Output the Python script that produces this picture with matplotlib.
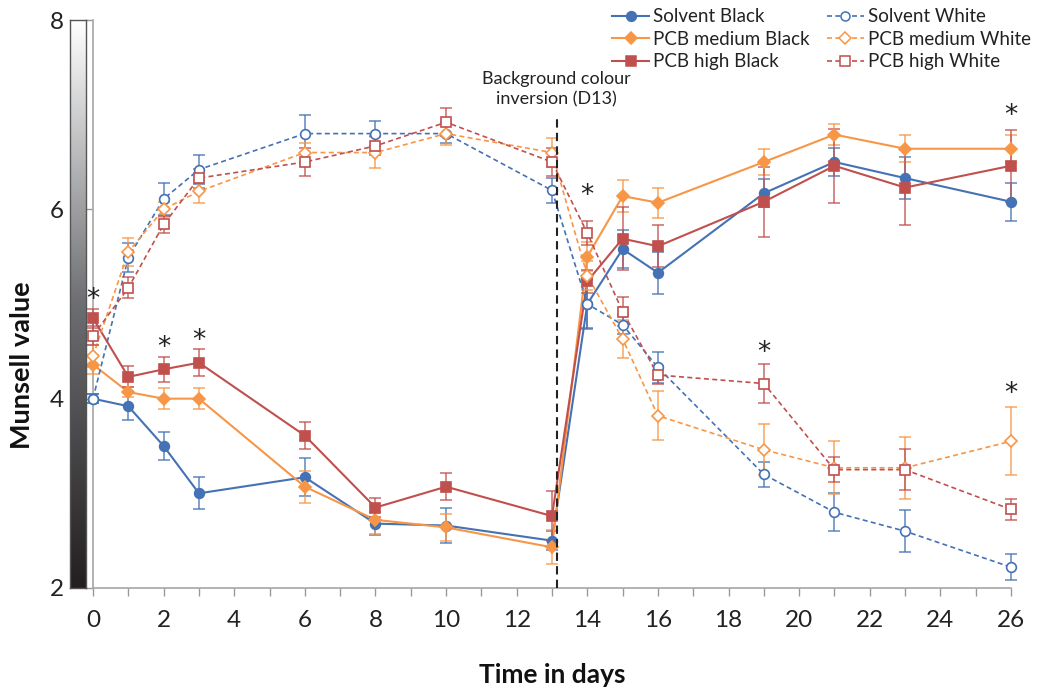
import numpy as np
import matplotlib
matplotlib.use("Agg")
import matplotlib.pyplot as plt
from matplotlib.ticker import MultipleLocator
from matplotlib.lines import Line2D
from matplotlib.colors import LinearSegmentedColormap

plt.rcParams['font.family'] = ['Lato', 'DejaVu Sans']

days = [0, 1, 2, 3, 6, 8, 10, 13, 14, 15, 16, 19, 21, 23, 26]

solvent_black = [4.00, 3.92, 3.50, 3.00, 3.17, 2.68, 2.66, 2.50, 5.00, 5.58, 5.33, 6.17, 6.50, 6.33, 6.08]
solvent_black_err = [0.05, 0.15, 0.15, 0.17, 0.20, 0.12, 0.18, 0.10, 0.25, 0.20, 0.22, 0.15, 0.15, 0.22, 0.20]

medium_black = [4.36, 4.07, 4.00, 4.00, 3.07, 2.72, 2.64, 2.43, 5.50, 6.14, 6.07, 6.50, 6.79, 6.64, 6.64]
medium_black_err = [0.10, 0.05, 0.11, 0.11, 0.17, 0.15, 0.14, 0.18, 0.15, 0.17, 0.16, 0.14, 0.11, 0.14, 0.14]

high_black = [4.85, 4.23, 4.31, 4.38, 3.61, 2.85, 3.07, 2.76, 5.24, 5.69, 5.61, 6.08, 6.46, 6.23, 6.46]
high_black_err = [0.10, 0.11, 0.13, 0.14, 0.14, 0.10, 0.14, 0.26, 0.12, 0.33, 0.22, 0.37, 0.39, 0.40, 0.38]

solvent_white = [4.00, 5.49, 6.11, 6.42, 6.80, 6.80, 6.80, 6.20, 5.00, 4.78, 4.33, 3.20, 2.80, 2.60, 2.22]
solvent_white_err = [0.05, 0.15, 0.17, 0.15, 0.20, 0.13, 0.10, 0.13, 0.26, 0.10, 0.16, 0.13, 0.20, 0.22, 0.14]

medium_white = [4.45, 5.55, 6.00, 6.19, 6.60, 6.60, 6.80, 6.60, 5.30, 4.63, 3.82, 3.46, 3.27, 3.27, 3.55]
medium_white_err = [0.12, 0.15, 0.08, 0.12, 0.10, 0.16, 0.12, 0.15, 0.15, 0.20, 0.26, 0.27, 0.28, 0.33, 0.36]

high_white = [4.665, 5.17, 5.84, 6.33, 6.50, 6.67, 6.92, 6.50, 5.75, 4.92, 4.25, 4.16, 3.25, 3.25, 2.83]
high_white_err = [0.10, 0.11, 0.09, 0.10, 0.15, 0.10, 0.15, 0.15, 0.13, 0.15, 0.10, 0.21, 0.13, 0.22, 0.11]

star_x = [0, 2, 3, 14, 19, 26, 26]
star_y = [5.10, 4.59, 4.67, 6.20, 4.54, 7.05, 4.11]

inversion_day = 13.13

BLUE = '#4472B4'
ORANGE = '#F79646'
RED = '#C0504D'

W, H = 1037, 689
fig = plt.figure(figsize=(W / 100, H / 100), dpi=100)
ax_l, ax_r = 93 / W, 1011 / W
ax_b, ax_t = 1 - 588 / H, 1 - 20 / H
ax = fig.add_axes([ax_l, ax_b, ax_r - ax_l, ax_t - ax_b])

# gradient bar
gax = fig.add_axes([70 / W, ax_b, 16 / W, ax_t - ax_b])
grad = np.linspace(0, 1, 256).reshape(-1, 1)
cmap = LinearSegmentedColormap.from_list('g', ['#231F20', '#6D6E71', '#FFFFFF'])
gax.imshow(grad, aspect='auto', cmap=cmap, origin='lower', extent=[0, 1, 2, 8])
gax.set_xticks([])
gax.set_yticks([])
for s in gax.spines.values():
    s.set_color('#555555')
    s.set_linewidth(1.0)

series = [
    ('Solvent Black', solvent_black, solvent_black_err, BLUE, 'o', True, 7),
    ('PCB medium Black', medium_black, medium_black_err, ORANGE, 'D', True, 6.5),
    ('PCB high Black', high_black, high_black_err, RED, 's', True, 7),
    ('Solvent White', solvent_white, solvent_white_err, BLUE, 'o', False, 7),
    ('PCB medium White', medium_white, medium_white_err, ORANGE, 'D', False, 6.5),
    ('PCB high White', high_white, high_white_err, RED, 's', False, 7),
]

handles = []
for i, (name, vals, err, col, mk, filled, ms) in enumerate(series):
    ls = '-' if filled else (0, (3, 2))
    lw = 1.5 if filled else 1.2
    ax.errorbar(days, vals, yerr=err, fmt='none', ecolor=col, elinewidth=1.1,
                capsize=4, capthick=1.1, alpha=0.85, zorder=2 + i, clip_on=False)
    ax.plot(days, vals, linestyle=ls, color=col, linewidth=lw, zorder=3 + i, clip_on=False)
    ax.plot(days, vals, linestyle='none', marker=mk, markersize=ms,
            markerfacecolor=col if filled else 'white', markeredgecolor=col,
            markeredgewidth=1.2, zorder=10 + i, clip_on=False)
    handles.append(Line2D([], [], linestyle=ls, color=col, linewidth=lw, marker=mk,
                          markersize=ms if filled else ms - 0.5,
                          markerfacecolor=col if filled else 'white',
                          markeredgecolor=col, markeredgewidth=1.1, label=name))

ax.vlines(inversion_day, 2, 7.0, colors='#222222', linestyles=(0, (4, 2.5)), linewidth=1.5, zorder=20)
ax.text(inversion_day, 7.27, 'Background colour\ninversion (D13)', ha='center', va='center',
        fontsize=13, color='#222222', linespacing=1.3)

for sx, sy in zip(star_x, star_y):
    ax.text(sx, sy - 0.06, '*', ha='center', va='center', fontsize=19, color='#222222',
            family='DejaVu Sans', zorder=25)

ax.set_xlim(0, 26)
ax.set_ylim(2, 8)
ax.xaxis.set_major_locator(MultipleLocator(2))
ax.xaxis.set_minor_locator(MultipleLocator(1))
ax.yaxis.set_major_locator(MultipleLocator(2))
ax.tick_params(axis='x', which='both', direction='out', length=6, width=1, color='#999999',
               labelsize=17.5, pad=10, labelcolor='#222222')
ax.tick_params(axis='y', which='both', direction='out', length=6, width=1, color='#999999',
               labelsize=17.5, pad=15, labelcolor='#222222')
for s in ['top', 'right']:
    ax.spines[s].set_visible(False)
for s in ['left', 'bottom']:
    ax.spines[s].set_color('#A6A6A6')
    ax.spines[s].set_linewidth(1.2)

ax.set_xlabel('Time in days', fontsize=19, fontweight='bold', labelpad=23, color='#111111')
ax.set_ylabel('Munsell value', fontsize=19.5, fontweight='bold', color='#111111')
ax.yaxis.set_label_coords(-(93 - 34) / (1011 - 93), (588 - 365) / 568)

leg = fig.legend(handles=handles, ncol=2, loc='upper right', bbox_to_anchor=(1044 / W, 1 + 5 / H),
                 frameon=False, fontsize=13.5, handlelength=2.0, handletextpad=0.2,
                 columnspacing=0.9, labelspacing=0.3, borderpad=0.2)
for t in leg.get_texts():
    t.set_color('#222222')

fig.savefig('out.png', dpi=100)
